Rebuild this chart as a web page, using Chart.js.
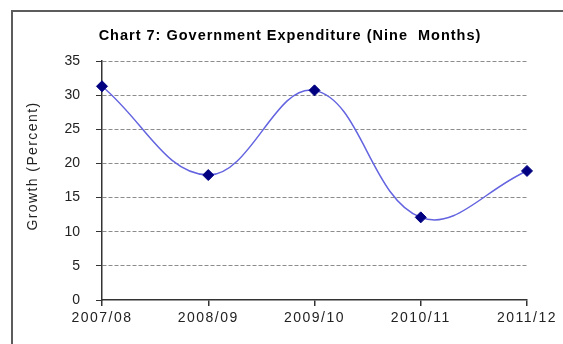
<!DOCTYPE html>
<html>
<head>
<meta charset="utf-8">
<script src="https://cdn.jsdelivr.net/npm/chart.js@4.4.1/dist/chart.umd.min.js"></script>
<style>
  html, body { margin:0; padding:0; background:#fff; overflow:hidden; width:563px; height:344px }
  #frame { position:absolute; left:11px; top:10px; width:620px; height:420px; border:2px solid #5c5c5c }
  #wrap { position:absolute; left:0; top:0; width:563px; height:344px }
</style>
</head>
<body>
<div id="frame"></div>
<div id="wrap"><canvas id="chart" width="563" height="344"></canvas></div>
<script>
// Chart 7 — government expenditure growth, nine months
const TITLE = 'Chart 7: Government Expenditure (Nine  Months)';
const Y_TITLE = 'Growth (Percent)';
const years = ['2007/08', '2008/09', '2009/10', '2010/11', '2011/12'];
const growth = [31.3, 18.3, 30.7, 12.1, 18.9];
const yTicks = [0, 5, 10, 15, 20, 25, 30, 35];

const FONT = '"Liberation Sans", Arial, sans-serif';

// titles drawn by hand so they sit where the original has them
const textPlugin = {
  id: 'texts',
  afterDraw(chart) {
    const ctx = chart.ctx;
    ctx.save();
    ctx.fillStyle = '#000';
    ctx.textAlign = 'center';
    ctx.textBaseline = 'middle';
    ctx.font = 'bold 14.5px ' + FONT;
    ctx.letterSpacing = '1px';
    ctx.fillText(TITLE, 290, 36);
    ctx.fillStyle = '#222';
    ctx.font = '14px ' + FONT;
    ctx.letterSpacing = '1.4px';
    ctx.translate(33, 166);
    ctx.rotate(-Math.PI / 2);
    ctx.fillText(Y_TITLE, 0, 0);
    ctx.restore();
  }
};

// x labels in the original are spaced wider than the y ones
const spacingPlugin = {
  id: 'xspacing',
  beforeDraw(chart) {
    const xs = chart.scales.x;
    if (!xs || xs._spaced) return;
    const orig = xs.drawLabels;
    xs.drawLabels = function (area) {
      this.ctx.save();
      this.ctx.letterSpacing = '1.5px';
      orig.call(this, area);
      this.ctx.restore();
    };
    xs._spaced = true;
  }
};

new Chart(document.getElementById('chart'), {
  type: 'line',
  data: {
    labels: years,
    datasets: [{
      data: growth,
      borderColor: '#6464e0',
      borderWidth: 1.5,
      tension: 0.4,
      fill: false,
      clip: false,
      pointStyle: 'rectRot',
      pointRadius: 5.5,
      pointBackgroundColor: '#000080',
      pointBorderColor: '#000080',
      pointBorderWidth: 1,
    }]
  },
  options: {
    responsive: false,
    devicePixelRatio: 1,
    animation: false,
    layout: { padding: { top: 61, right: 36, left: 0, bottom: 0 } },
    plugins: { legend: { display: false }, tooltip: { enabled: false }, title: { display: false } },
    scales: {
      x: {
        offset: false,
        afterFit: (s) => { s.height = 44; },
        grid: { drawOnChartArea: false, tickLength: 6, tickColor: '#333', lineWidth: 1.5 },
        border: { color: '#333', width: 1.5 },
        ticks: { color: '#222', font: { family: FONT, size: 14 }, padding: 4, maxRotation: 0, autoSkip: false },
      },
      y: {
        min: 0,
        max: 35,
        afterFit: (s) => { s.width = 102; },
        afterBuildTicks: (s) => { s.ticks = yTicks.map(v => ({ value: v })); },
        grid: {
          color: (c) => c.tick && c.tick.value === 0 ? 'rgba(0,0,0,0)' : '#8c8c8c',
          tickColor: '#333',
          tickLength: 6,
          tickBorderDash: [],
        },
        border: { color: '#333', width: 1.5, dash: [4, 2] },
        ticks: { color: '#222', font: { family: FONT, size: 14 }, padding: 16 },
      }
    }
  },
  plugins: [textPlugin, spacingPlugin]
});
</script>
</body>
</html>
